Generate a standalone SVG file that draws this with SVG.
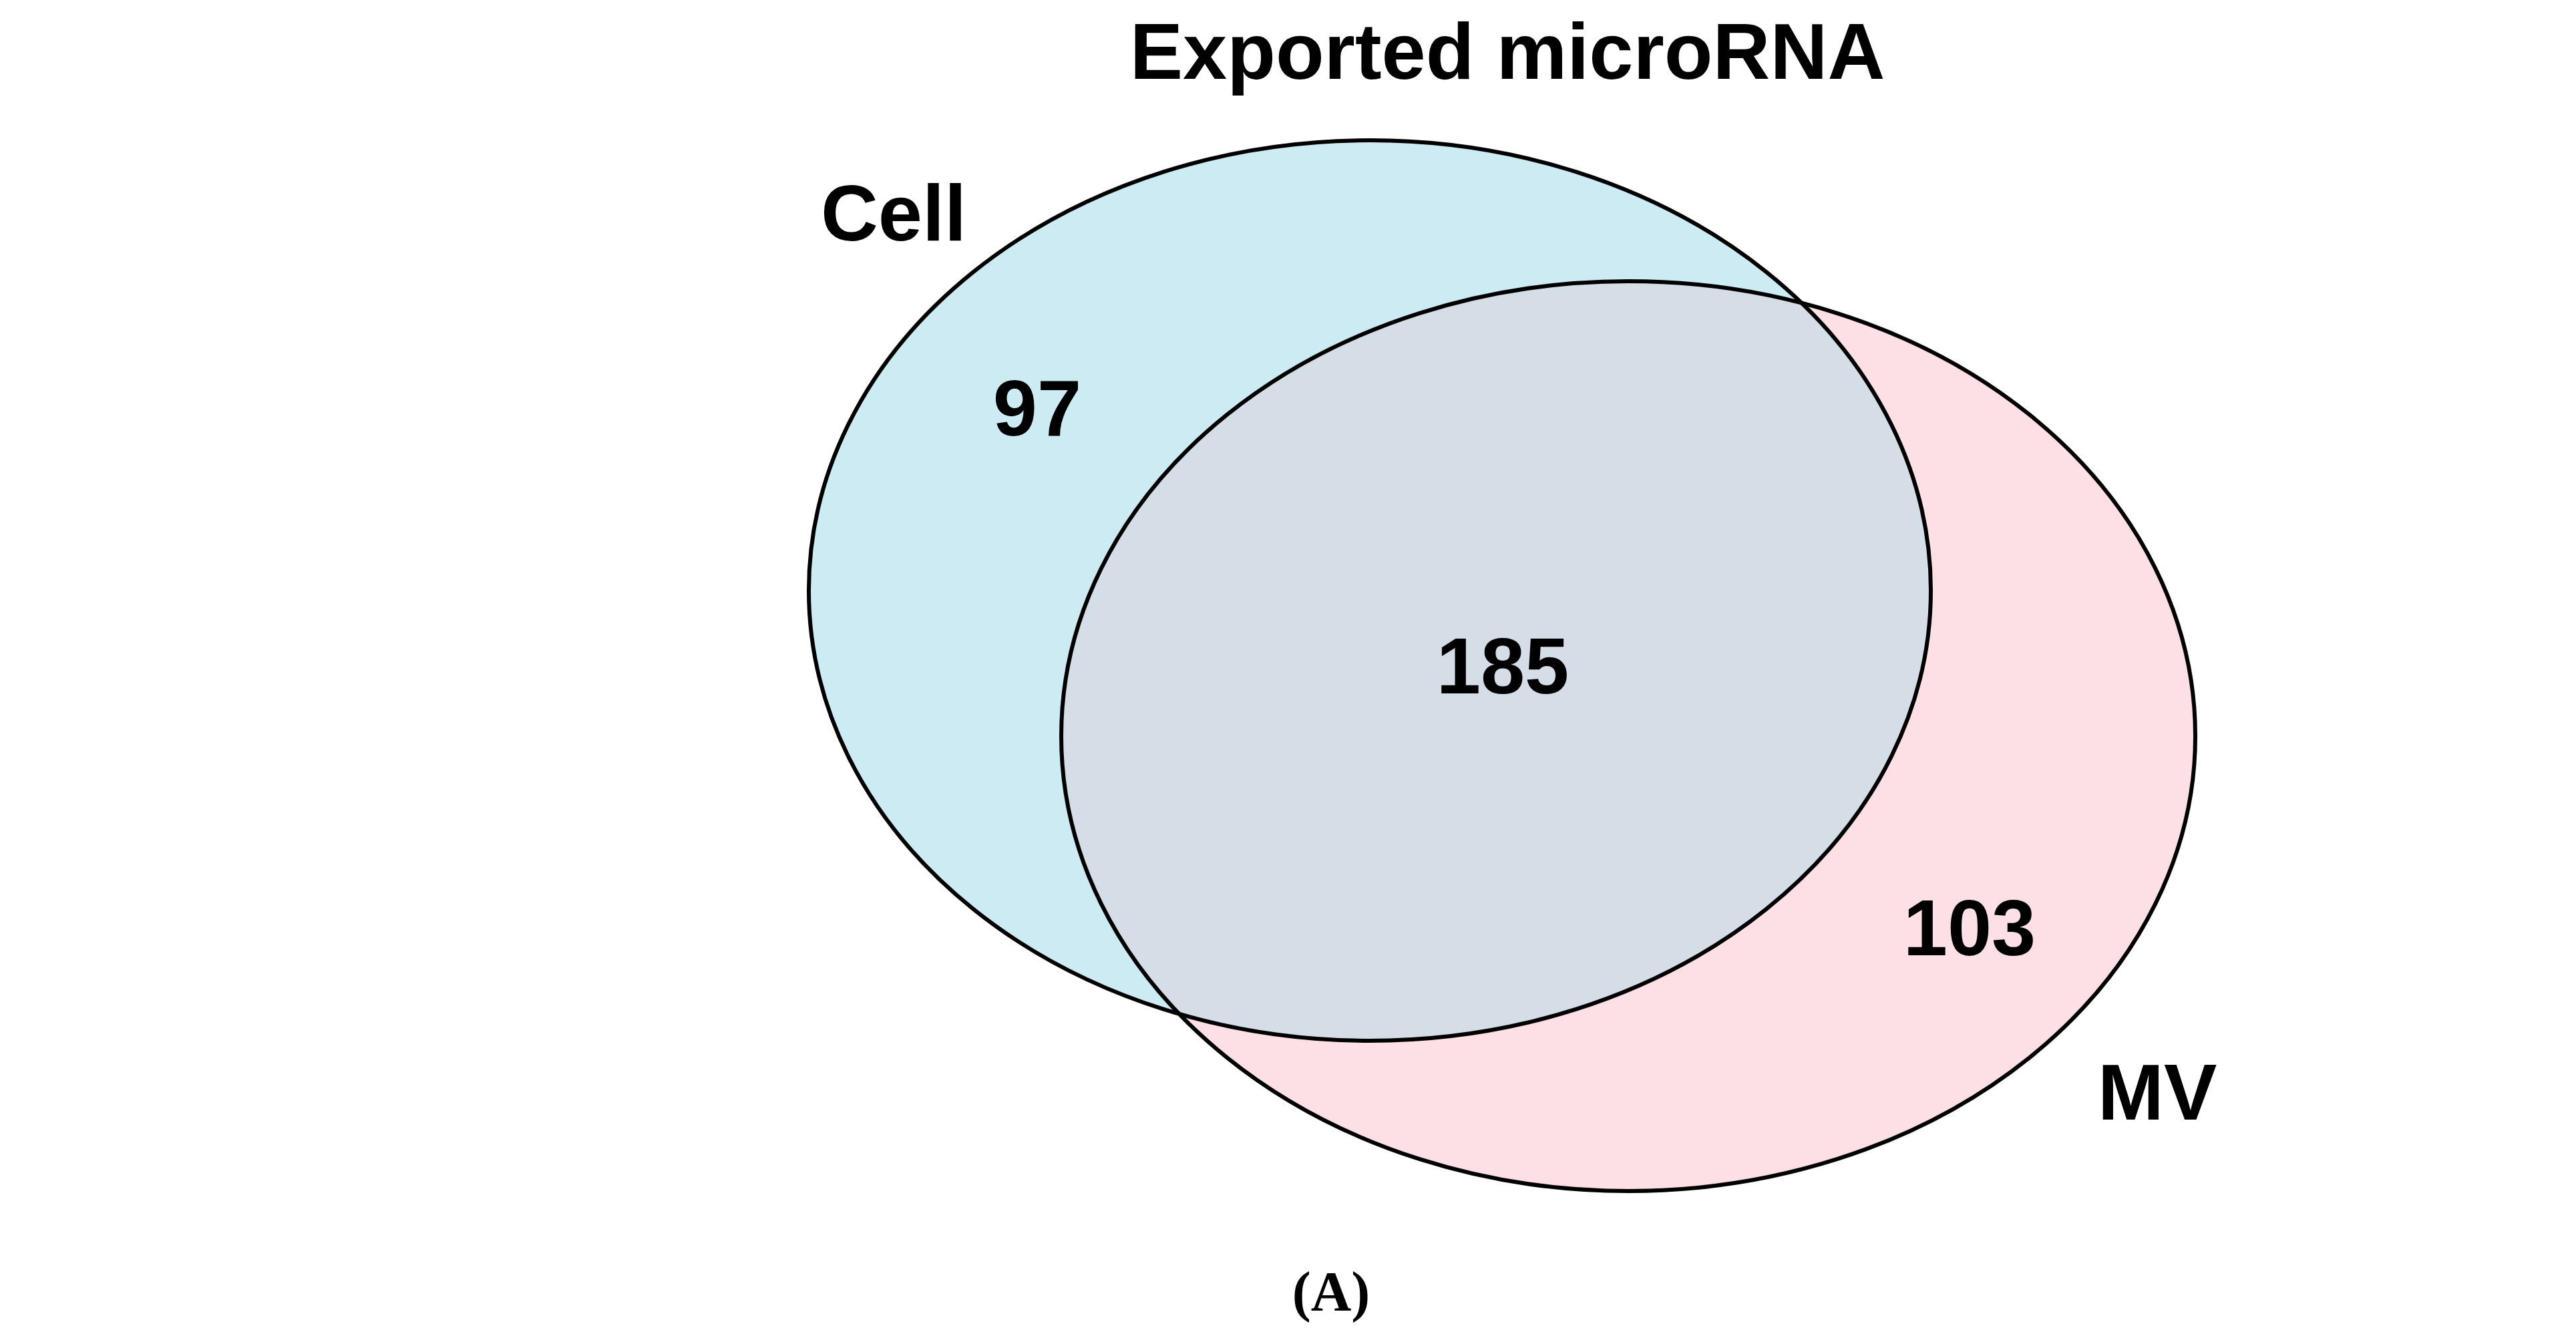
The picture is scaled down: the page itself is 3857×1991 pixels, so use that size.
<svg xmlns="http://www.w3.org/2000/svg" width="3857" height="1991" viewBox="0 0 3857 1991">
<style>
.t{font-family:"Liberation Sans",Arial,sans-serif;font-weight:bold;fill:#000;text-anchor:middle}
.e{stroke:#000;stroke-width:6}
</style>
<defs>
<clipPath id="cc"><ellipse cx="2051" cy="884" rx="840" ry="674"/></clipPath>
</defs>
<rect width="3857" height="1991" fill="#fff"/>
<g id="mv"><ellipse cx="2438" cy="1102" rx="849" ry="681" fill="#fde0e5"/></g>
<g id="cell"><ellipse cx="2051" cy="884" rx="840" ry="674" fill="#cdebf3"/></g>
<g id="overlap"><ellipse cx="2438" cy="1102" rx="849" ry="681" fill="#d5dde6" clip-path="url(#cc)"/></g>
<g id="outlines" fill="none">
<ellipse class="e" cx="2051" cy="884" rx="840" ry="674"/>
<ellipse class="e" cx="2438" cy="1102" rx="849" ry="681"/>
</g>
<g id="labels">
<text class="t" x="2257" y="118" font-size="119">Exported microRNA</text>
<text class="t" x="1338" y="360" font-size="119">Cell</text>
<text class="t" x="1553" y="652" font-size="119">97</text>
<text class="t" x="2250" y="1038" font-size="119">185</text>
<text class="t" x="2949" y="1430" font-size="119">103</text>
<text class="t" x="3230" y="1676" font-size="119">MV</text>
<text x="1993" y="1962" font-size="84" font-weight="bold" text-anchor="middle" font-family="Liberation Serif,serif">(A)</text>
</g>
</svg>
